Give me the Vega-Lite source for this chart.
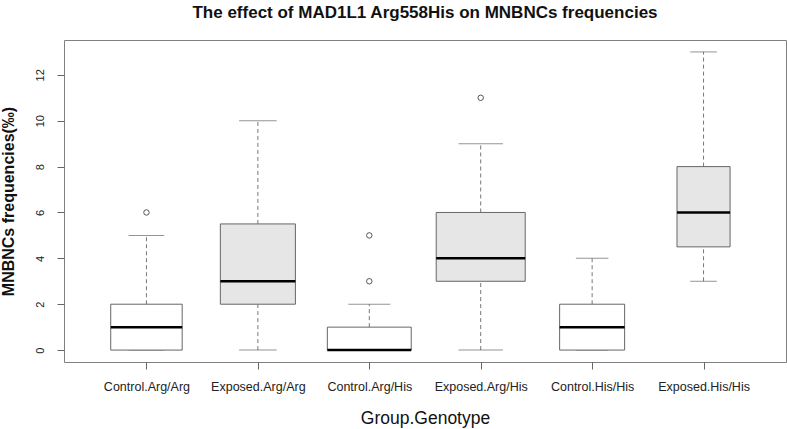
{
  "$schema": "https://vega.github.io/schema/vega-lite/v6.json",
  "width": 722,
  "height": 322,
  "autosize": "none",
  "padding": {"left": 64, "top": 40, "right": 1, "bottom": 67},
  "background": "white",
  "title": {
    "text": "The effect of MAD1L1 Arg558His on MNBNCs frequencies",
    "fontSize": 17,
    "fontWeight": "bold",
    "font": "Liberation Sans",
    "color": "#111",
    "anchor": "middle",
    "offset": 18
  },
  "config": {
    "font": "Liberation Sans",
    "view": {"stroke": "#808080", "strokeWidth": 1},
    "axis": {"grid": false, "domain": false, "tickColor": "#666", "labelColor": "#222", "titleColor": "#111"}
  },
  "datasets": {
    "boxes": [
      {"group": "Control.Arg/Arg", "cond": "Control", "n": 29, "lo": 0, "q1": 0, "med": 1, "q3": 2, "hi": 5},
      {"group": "Exposed.Arg/Arg", "cond": "Exposed", "n": 32, "lo": 0, "q1": 2, "med": 3, "q3": 5.5, "hi": 10},
      {"group": "Control.Arg/His", "cond": "Control", "n": 40, "lo": 0, "q1": 0, "med": 0, "q3": 1, "hi": 2},
      {"group": "Exposed.Arg/His", "cond": "Exposed", "n": 45, "lo": 0, "q1": 3, "med": 4, "q3": 6, "hi": 9},
      {"group": "Control.His/His", "cond": "Control", "n": 24, "lo": 0, "q1": 0, "med": 1, "q3": 2, "hi": 4},
      {"group": "Exposed.His/His", "cond": "Exposed", "n": 16, "lo": 3, "q1": 4.5, "med": 6, "q3": 8, "hi": 13}
    ],
    "outliers": [
      {"group": "Control.Arg/Arg", "value": 6},
      {"group": "Control.Arg/His", "value": 3},
      {"group": "Control.Arg/His", "value": 5},
      {"group": "Exposed.Arg/His", "value": 11}
    ]
  },
  "encoding": {
    "x": {
      "field": "group",
      "type": "nominal",
      "sort": ["Control.Arg/Arg", "Exposed.Arg/Arg", "Control.Arg/His", "Exposed.Arg/His", "Control.His/His", "Exposed.His/His"],
      "scale": {"type": "point", "padding": 0.74},
      "axis": {
        "title": "Group.Genotype",
        "labelAngle": 0,
        "labelFontSize": 12.5,
        "tickSize": 7,
        "labelPadding": 11,
        "titleFontSize": 17.5,
        "titleFontWeight": "normal",
        "titlePadding": 17
      }
    }
  },
  "layer": [
    {
      "data": {"name": "boxes"},
      "mark": {"type": "rule", "color": "#777", "strokeDash": [4, 3], "strokeWidth": 1},
      "encoding": {
        "y": {"field": "lo", "type": "quantitative", "title": "MNBNCs frequencies(‰)",
              "scale": {"domain": [-0.52, 13.52], "nice": false, "zero": false},
              "axis": {"values": [0, 2, 4, 6, 8, 10, 12], "labelAngle": 270, "labelFontSize": 11, "tickSize": 7, "labelPadding": 12,
                       "titleFontSize": 16, "titleFontWeight": "bold", "titlePadding": 18}},
        "y2": {"field": "q1"}
      }
    },
    {
      "data": {"name": "boxes"},
      "mark": {"type": "rule", "color": "#777", "strokeDash": [4, 3], "strokeWidth": 1},
      "encoding": {
        "y": {"field": "q3", "type": "quantitative", "title": "MNBNCs frequencies(‰)",
              "scale": {"domain": [-0.52, 13.52], "nice": false, "zero": false}},
        "y2": {"field": "hi"}
      }
    },
    {
      "data": {"name": "boxes"},
      "mark": {"type": "tick", "color": "#666", "thickness": 1},
      "encoding": {
        "y": {"field": "lo", "type": "quantitative", "title": "MNBNCs frequencies(‰)",
              "scale": {"domain": [-0.52, 13.52], "nice": false, "zero": false}},
        "size": {"field": "n", "type": "quantitative", "scale": {"type": "sqrt", "domain": [0, 45], "range": [0, 44.5]}, "legend": null}
      }
    },
    {
      "data": {"name": "boxes"},
      "mark": {"type": "tick", "color": "#666", "thickness": 1},
      "encoding": {
        "y": {"field": "hi", "type": "quantitative", "title": "MNBNCs frequencies(‰)",
              "scale": {"domain": [-0.52, 13.52], "nice": false, "zero": false}},
        "size": {"field": "n", "type": "quantitative", "scale": {"type": "sqrt", "domain": [0, 45], "range": [0, 44.5]}, "legend": null}
      }
    },
    {
      "data": {"name": "boxes"},
      "mark": {"type": "bar", "stroke": "#666", "strokeWidth": 1},
      "encoding": {
        "y": {"field": "q1", "type": "quantitative", "title": "MNBNCs frequencies(‰)",
              "scale": {"domain": [-0.52, 13.52], "nice": false, "zero": false}},
        "y2": {"field": "q3"},
        "size": {"field": "n", "type": "quantitative", "scale": {"type": "sqrt", "domain": [0, 45], "range": [0, 89]}, "legend": null},
        "fill": {"field": "cond", "type": "nominal", "scale": {"domain": ["Control", "Exposed"], "range": ["#ffffff", "#e6e6e6"]}, "legend": null}
      }
    },
    {
      "data": {"name": "boxes"},
      "mark": {"type": "tick", "color": "#000", "thickness": 2.5, "opacity": 1},
      "encoding": {
        "y": {"field": "med", "type": "quantitative", "title": "MNBNCs frequencies(‰)",
              "scale": {"domain": [-0.52, 13.52], "nice": false, "zero": false}},
        "size": {"field": "n", "type": "quantitative", "scale": {"type": "sqrt", "domain": [0, 45], "range": [0, 89]}, "legend": null}
      }
    },
    {
      "data": {"name": "outliers"},
      "mark": {"type": "point", "shape": "circle", "filled": false, "stroke": "#555", "strokeWidth": 1, "size": 30, "opacity": 1},
      "encoding": {
        "y": {"field": "value", "type": "quantitative", "title": "MNBNCs frequencies(‰)",
              "scale": {"domain": [-0.52, 13.52], "nice": false, "zero": false}}
      }
    }
  ],
  "resolve": {"scale": {"size": "independent"}}
}
